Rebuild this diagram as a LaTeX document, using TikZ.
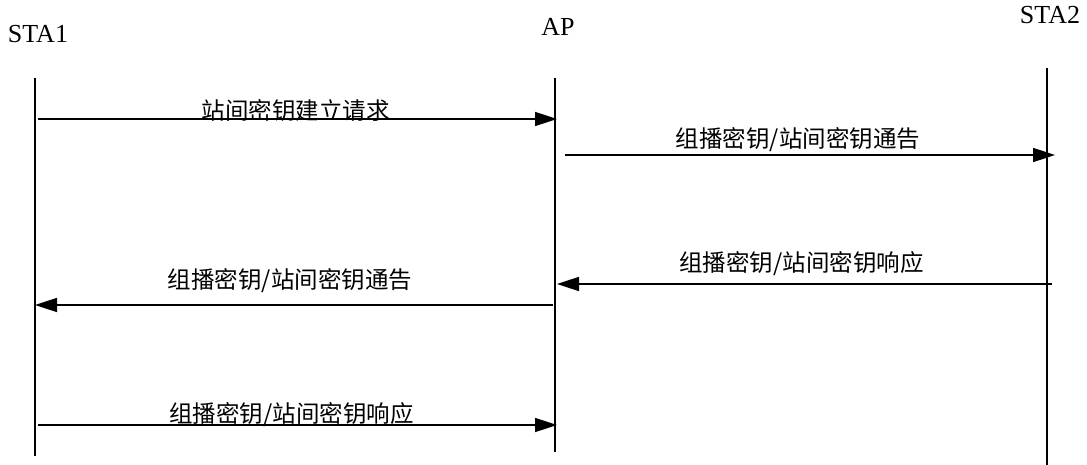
\documentclass[tikz,border=0pt]{standalone}
\usepackage{fontspec}
\setmainfont{Liberation Serif}
\newfontfamily\cjk{Noto Sans CJK SC}
\usetikzlibrary{arrows.meta}

\begin{document}
\begin{tikzpicture}[
  x=1pt,
  y=1pt,
  line width=1.6pt,
  party/.style={font=\fontsize{26}{30}\selectfont, inner sep=0pt},
  msg/.style={-{Triangle[length=22pt,width=14pt]}},
  lbl/.style={font=\cjk\fontsize{23.5}{27}\selectfont, inner sep=0pt, anchor=south}]
\useasboundingbox (0,0) rectangle (1087,-465);
% lifelines
\foreach \n/\x/\t/\b/\ly/\txt in {
  sta1/35/-78/-456/-34/STA1, ap/555/-78/-452/-27/AP, sta2/1047/-68/-465/-15/STA2}{
  \node[party] (\n) at (\x+3,\ly) {\txt};
  \coordinate (\n-top) at (\x,\t);
  \coordinate (\n-bot) at (\x,\b);
  \draw[line width=1.8pt] (\n-top) -- (\n-bot);}
% message ends
\coordinate (m1a) at (38,-119);  \coordinate (m1b) at (557,-119);
\coordinate (m2a) at (565,-155); \coordinate (m2b) at (1055,-155);
\coordinate (m3a) at (1052,-284); \coordinate (m3b) at (557,-284);
\coordinate (m4a) at (553,-305); \coordinate (m4b) at (35,-305);
\coordinate (m5a) at (38,-425);  \coordinate (m5b) at (557,-425);
\draw[msg] (m1a) -- node[lbl, midway, xshift=-2pt, yshift=-3pt] (l1) {站间密钥建立请求} (m1b);
\draw[msg] (m2a) -- node[lbl, midway, xshift=-12pt, yshift=2pt] (l2) {组播密钥/站间密钥通告} (m2b);
\draw[msg] (m3a) -- node[lbl, midway, xshift=-3pt, yshift=7pt] (l3) {组播密钥/站间密钥响应} (m3b);
\draw[msg] (m4a) -- node[lbl, midway, xshift=-4pt, yshift=11pt] (l4) {组播密钥/站间密钥通告} (m4b);
\draw[msg] (m5a) -- node[lbl, midway, xshift=-6pt, yshift=-3pt] (l5) {组播密钥/站间密钥响应} (m5b);
\end{tikzpicture}
\end{document}
